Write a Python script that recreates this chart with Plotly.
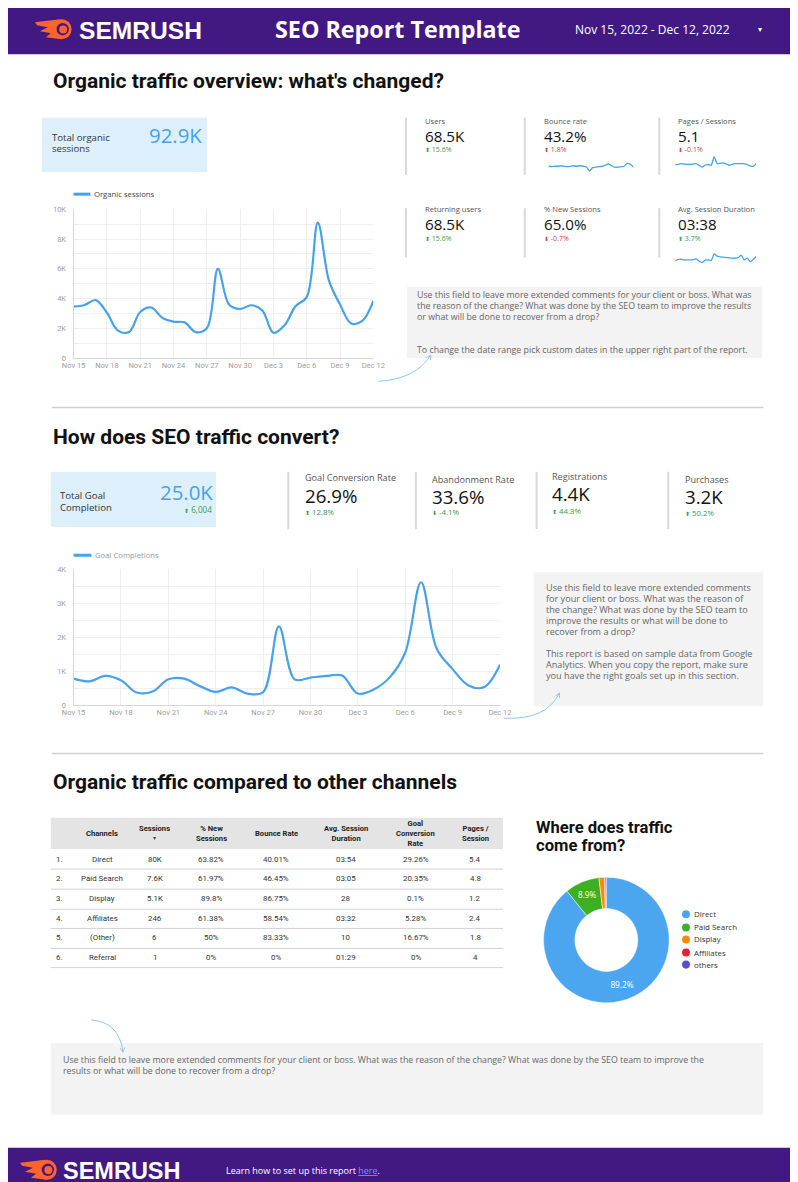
import math
import pandas as pd
import plotly.graph_objects as go

W, H = 798, 1182
# The page is photographed with the browser's default 8px body margin and fitted back into
# 798x1182, so positions measured on the reference are mapped through that transform.
M = 8
SX, SY = W / (W + 2 * M), H / (H + 2 * M)


def X(x):
    return ((x - M * SX) / SX) / W


def Y(y):
    return 1 - ((y - M * SY) / SY) / H


# ------------------------------------------------------------------ data
dates = pd.date_range("2022-11-15", "2022-12-12", freq="D")
date_tick_labels = ["Nov 15", "Nov 18", "Nov 21", "Nov 24", "Nov 27",
                    "Nov 30", "Dec 3", "Dec 6", "Dec 9", "Dec 12"]

organic_sessions = [3460, 3570, 3900, 3050, 1850, 1750, 3100, 3400, 2700, 2450,
                    2400, 1750, 2000, 6000, 3600, 3300, 3550, 3200, 1700, 2200,
                    3500, 4100, 9100, 5200, 3600, 2330, 2500, 3850]

goal_completions = [780, 700, 860, 730, 370, 400, 760, 780, 560, 390,
                    520, 340, 380, 2320, 760, 810, 860, 870, 340, 460,
                    810, 1550, 3620, 1650, 1060, 580, 530, 1190]

bounce_rate_trend = [43.0, 42.7, 43.0, 43.0, 43.3, 43.0, 42.7, 43.0, 43.3, 43.0,
                     43.3, 43.0, 42.7, 40.0, 42.1, 42.4, 42.7, 43.0, 43.6, 44.5,
                     43.3, 42.4, 42.4, 42.7, 43.0, 44.8, 44.2, 42.4]

pages_per_session_trend = [5.10, 5.15, 5.25, 5.20, 5.15, 5.15, 5.20, 5.25, 5.00, 4.75,
                           5.05, 5.10, 5.00, 6.25, 5.25, 5.30, 5.35, 5.20, 5.00, 5.15,
                           5.25, 5.25, 5.25, 5.20, 5.10, 4.90, 4.85, 5.25]

avg_session_duration_trend = [210, 216, 218, 214, 214, 214, 216, 220, 206, 198,
                              212, 214, 210, 250, 236, 232, 230, 228, 226, 224,
                              224, 228, 242, 214, 224, 204, 216, 234]

kpi_top_labels = ["Users", "Bounce rate", "Pages / Sessions",
                  "Returning users", "% New Sessions", "Avg. Session Duration"]
kpi_top_values = ["68.5K", "43.2%", "5.1", "68.5K", "65.0%", "03:38"]
kpi_top_changes = ["15.6%", "1.8%", "-0.1%", "15.6%", "-0.7%", "3.7%"]
kpi_top_good = [True, False, False, True, False, True]

total_organic_sessions = "92.9K"
total_goal_completion = "25.0K"
total_goal_change = "6,004"

kpi_goal_labels = ["Goal Conversion Rate", "Abandonment Rate", "Registrations", "Purchases"]
kpi_goal_values = ["26.9%", "33.6%", "4.4K", "3.2K"]
kpi_goal_changes = ["12.8%", "-4.1%", "44.8%", "50.2%"]
kpi_goal_good = [True, True, True, True]

table_headers = ["Channels", "Sessions", "% New<br>Sessions", "Bounce Rate",
                 "Avg. Session<br>Duration", "Goal<br>Conversion<br>Rate", "Pages /<br>Session"]
channels = ["Direct", "Paid Search", "Display", "Affiliates", "(Other)", "Referral"]
sessions = ["80K", "7.6K", "5.1K", "246", "6", "1"]
new_sessions = ["63.82%", "61.97%", "89.8%", "61.38%", "50%", "0%"]
bounce_rates = ["40.01%", "46.45%", "86.75%", "58.54%", "83.33%", "0%"]
avg_durations = ["03:54", "03:05", "28", "03:32", "10", "01:29"]
goal_conversion = ["29.26%", "20.35%", "0.1%", "5.28%", "16.67%", "0%"]
pages_session = ["5.4", "4.8", "1.2", "2.4", "1.8", "4"]

pie_labels = ["Direct", "Paid Search", "Display", "Affiliates", "others"]
pie_values = [89.2, 8.9, 1.4, 0.2, 0.3]
pie_colors = ["#4BA6EF", "#3CAF22", "#FF8A00", "#E8222B", "#5B4FC9"]

comment_1 = ["Use this field to leave more extended comments for your client or boss. What was",
             "the reason of the change? What was done by the SEO team to improve the results",
             "or what will be done to recover from a drop?",
             "", "",
             "To change the date range pick custom dates in the upper right part of the report."]
comment_2 = ["Use this field to leave more extended comments",
             "for your client or boss. What was the reason of",
             "the change? What was done by the SEO team to",
             "improve the results or what will be done to",
             "recover from a drop?",
             "",
             "This report is based on sample data from Google",
             "Analytics. When you copy the report, make sure",
             "you have the right goals set up in this section."]
comment_3 = ["Use this field to leave more extended comments for your client or boss. What was the reason of the change? What was done by the SEO team to improve the",
             "results or what will be done to recover from a drop?"]

# ------------------------------------------------------------------ styles
PURPLE = "#421983"
ORANGE = "#FF642D"
BLUE = "#45A2F0"
GREEN = "#35A04B"
RED = "#E53935"
BODY = "Open Sans"
HEAD = "Roboto"

shapes = []
ann = []


def text(x, y, s, size=8, color="#333", family=BODY, xanchor="left",
         yanchor="middle", align="left"):
    ann.append(dict(x=X(x), y=Y(y), xref="paper", yref="paper", text=s,
                    showarrow=False, xanchor=xanchor, yanchor=yanchor, align=align,
                    borderpad=0, font=dict(family=family, size=size, color=color)))


def rect(x0, y0, x1, y1, fill, layer="below"):
    shapes.append(dict(type="rect", xref="paper", yref="paper", x0=X(x0), x1=X(x1),
                       y0=Y(y1), y1=Y(y0), fillcolor=fill, line=dict(width=0), layer=layer))


def line(x0, y0, x1, y1, color="#D6D6D6", width=1):
    shapes.append(dict(type="line", xref="paper", yref="paper", x0=X(x0), x1=X(x1),
                       y0=Y(y0), y1=Y(y1), line=dict(color=color, width=width), layer="below"))


def circle(cx, cy, r, fill):
    shapes.append(dict(type="circle", xref="paper", yref="paper", x0=X(cx - r), x1=X(cx + r),
                       y0=Y(cy + r), y1=Y(cy - r), fillcolor=fill, line=dict(width=0), layer="above"))


def polygon(pts, fill):
    p = "M " + " L ".join(f"{X(a):.5f},{Y(b):.5f}" for a, b in pts) + " Z"
    shapes.append(dict(type="path", xref="paper", yref="paper", path=p, fillcolor=fill,
                       line=dict(width=0), layer="above"))


def curved_arrow(p0, c, p1, color="#8EC8F6", head=5):
    p = (f"M {X(p0[0]):.5f},{Y(p0[1]):.5f} Q {X(c[0]):.5f},{Y(c[1]):.5f} "
         f"{X(p1[0]):.5f},{Y(p1[1]):.5f}")
    shapes.append(dict(type="path", xref="paper", yref="paper", path=p,
                       line=dict(color=color, width=1), layer="above"))
    dx, dy = p1[0] - c[0], p1[1] - c[1]
    n = math.hypot(dx, dy)
    ux, uy = -dx / n, -dy / n
    for a in (0.5, -0.5):
        rx = ux * math.cos(a) - uy * math.sin(a)
        ry = ux * math.sin(a) + uy * math.cos(a)
        q = (p1[0] + rx * head, p1[1] + ry * head)
        shapes.append(dict(type="line", xref="paper", yref="paper", x0=X(p1[0]), y0=Y(p1[1]),
                           x1=X(q[0]), y1=Y(q[1]), line=dict(color=color, width=1), layer="above"))


def semrush_logo(x0, yc, text_x, size):
    cx = x0 + 27
    polygon([(x0, yc - 7), (cx - 2, yc - 10), (cx, yc + 10), (x0 + 11, yc + 8),
             (x0 + 16, yc + 4), (x0 + 5, yc + 2), (x0 + 13, yc - 2), (x0 + 2, yc - 4)], ORANGE)
    circle(cx, yc, 10, ORANGE)
    circle(cx + 1, yc, 6.2, PURPLE)
    circle(cx + 1.5, yc + 0.3, 4, ORANGE)
    text(text_x, yc + 1, "<b>SEMRUSH</b>", size=size, color="white", family="Liberation Sans")


def comment_box(x0, y0, x1, y1, lines, tx, ty, step=11, size=8.8):
    rect(x0, y0, x1, y1, "#F3F3F3")
    for i, s in enumerate(lines):
        if s:
            text(tx, ty + i * step, s, size=size, color="#666")


def arrow_txt(change, good):
    col = GREEN if good else RED
    up = not change.startswith("-")
    glyph = "⬆" if up else "⬇"
    return f"<span style='font-size:6px'>{glyph}</span> {change}", col


# ------------------------------------------------------------------ header / footer
rect(-10, -10, W + 10, 50, PURPLE)
semrush_logo(23, 25, 66, 24.6)
text(389, 25, "<b>SEO Report Template</b>", size=23.3, color="white", xanchor="center")
text(568, 25, "Nov 15, 2022 - Dec 12, 2022", size=12, color="white")
text(756, 24, "▾", size=8, color="white", xanchor="center")

rect(-10, 1137, W + 10, H + 10, PURPLE)
semrush_logo(8, 1159, 50, 23.5)
text(215, 1160, "Learn how to set up this report "
     "<span style='color:#5E9BFF;text-decoration:underline'>here</span>.",
     size=9, color="white")

# ------------------------------------------------------------------ section 1
TITLE = 21
text(40, 76, "<b>Organic traffic overview: what's changed?</b>", size=TITLE, color="#111", family=HEAD)

rect(30, 113, 197, 167, "#DEEFFC")
text(39, 133, "Total organic", size=9.6, color="#333")
text(39, 144, "sessions", size=9.6, color="#333")
text(193, 130, total_organic_sessions, size=20.4, color=BLUE, xanchor="right")

tile_x = [416, 536, 672]
for row, (ly, vy, cy, l0, l1) in enumerate([(116, 131, 145, 113, 170), (204, 219, 233, 203, 252)]):
    for col in range(3):
        k = row * 3 + col
        line(tile_x[col] - 18, l0, tile_x[col] - 18, l1, color="#D9D9D9", width=2)
        text(tile_x[col], ly, kpi_top_labels[k], size=7.6, color="#555")
        text(tile_x[col], vy, kpi_top_values[k], size=15.2, color="#111")
        s, c = arrow_txt(kpi_top_changes[k], kpi_top_good[k])
        text(tile_x[col], cy, s, size=7.0, color=c)

# chart legend
line(62, 189, 79, 189, color=BLUE, width=3)
text(82, 189, "Organic sessions", size=7.7, color="#444")

comment_box(399, 281, 758, 352, comment_1, 408, 289)
curved_arrow((370, 375), (408, 373), (423, 349))

line(40, 401, 759, 401, color="#D0D0D0", width=1.5)

# ------------------------------------------------------------------ section 2
text(40, 430, "<b>How does SEO traffic convert?</b>", size=TITLE, color="#111", family=HEAD)

rect(39, 465, 206, 520, "#DEEFFC")
text(47, 489, "Total Goal", size=9.6, color="#333")
text(47, 501, "Completion", size=9.6, color="#333")
text(204, 485, total_goal_completion, size=20.4, color=BLUE, xanchor="right")
text(203, 503, f"<span style='font-size:6px'>⬆</span> {total_goal_change}", size=8.2, color=GREEN,
     xanchor="right")

goal_x = [295, 423, 545, 679]
goal_line_x = [279, 408, 530, 663]
goal_ly = [471, 473, 470, 473]
goal_vy = [489, 490, 487, 490]
goal_cy = [505, 505, 504, 506]
for i in range(4):
    line(goal_line_x[i], 465, goal_line_x[i], 522, color="#D9D9D9", width=2)
    text(goal_x[i], goal_ly[i], kpi_goal_labels[i], size=9.1, color="#555")
    text(goal_x[i], goal_vy[i], kpi_goal_values[i], size=18.7, color="#111")
    s, c = arrow_txt(kpi_goal_changes[i], kpi_goal_good[i])
    text(goal_x[i], goal_cy[i], s, size=7.8, color=c)

line(62, 548, 80, 548, color=BLUE, width=3)
text(83, 548, "Goal Completions", size=7.7, color="#999")

comment_box(527, 565, 759, 698, comment_2, 538, 580, size=9.1)
curved_arrow((497, 710), (540, 712), (553, 685))

line(40, 745, 759, 745, color="#D0D0D0", width=1.5)

# ------------------------------------------------------------------ section 3
text(40, 773, "<b>Organic traffic compared to other channels</b>", size=TITLE, color="#111", family=HEAD)

rect(39, 809, 496, 840, "#E4E4E4")
col_x = [91, 144, 201, 267, 337, 408, 468]
for i, h in enumerate(table_headers):
    yy = 820 if h == "Sessions" else 824.5
    text(col_x[i], yy, f"<b>{h}</b>", size=7.6, color="#222", family=HEAD, xanchor="center",
         align="center")
text(col_x[1], 829, "▾", size=6, color="#444", xanchor="center")
row_y = [850, 869, 889, 909, 928, 948]
row_line = [860, 880, 900, 919, 939, 958]
for r in range(len(channels)):
    vals = [channels[r], sessions[r], new_sessions[r], bounce_rates[r],
            avg_durations[r], goal_conversion[r], pages_session[r]]
    text(43, row_y[r], f"{r + 1}.", size=7.9, color="#333", family=HEAD)
    for c, v in enumerate(vals):
        text(col_x[c], row_y[r], v, size=7.9, color="#333", family=HEAD, xanchor="center")
    line(39, row_line[r], 496, row_line[r], color="#D2D2D2", width=1)

text(528, 819, "<b>Where does traffic</b>", size=16.6, color="#111", family=HEAD)
text(528, 837, "<b>come from?</b>", size=16.6, color="#111", family=HEAD)

leg_y = [905, 918, 930, 943, 955]
for i, lab in enumerate(pie_labels):
    circle(681, leg_y[i], 4, pie_colors[i])
    text(688, leg_y[i], lab, size=7.9, color="#333")

comment_box(39, 1033, 759, 1104, comment_3, 50, 1050)
curved_arrow((80, 1010), (108, 1012), (112, 1042))

# ------------------------------------------------------------------ traces
fig = go.Figure()
fig.add_trace(go.Scatter(x=dates, y=organic_sessions, mode="lines",
                         line=dict(color=BLUE, width=2.2, shape="spline", smoothing=1.0),
                         xaxis="x", yaxis="y", showlegend=False, hoverinfo="skip"))
fig.add_trace(go.Scatter(x=dates, y=goal_completions, mode="lines",
                         line=dict(color=BLUE, width=2.2, shape="spline", smoothing=1.0),
                         xaxis="x2", yaxis="y2", showlegend=False, hoverinfo="skip"))
for tr, ax in [(bounce_rate_trend, 3), (pages_per_session_trend, 4), (avg_session_duration_trend, 5)]:
    fig.add_trace(go.Scatter(x=dates, y=tr, mode="lines",
                             line=dict(color=BLUE, width=1.3, shape="spline", smoothing=0.6),
                             xaxis=f"x{ax}", yaxis=f"y{ax}", showlegend=False, hoverinfo="skip"))

total = sum(pie_values)
pie_text = [f"{v / total * 100:.1f}%" if v / total >= 0.05 else "" for v in pie_values]
fig.add_trace(go.Pie(labels=pie_labels, values=pie_values, hole=0.5, sort=False,
                     direction="clockwise", rotation=0,
                     marker=dict(colors=pie_colors, line=dict(color="white", width=0.5)),
                     text=pie_text, textinfo="text", textposition="inside",
                     insidetextorientation="horizontal",
                     textfont=dict(color="white", size=8.2, family=BODY),
                     domain=dict(x=[X(537), X(664)], y=[Y(994), Y(867)]),
                     showlegend=False, hoverinfo="skip"))

axis_font = dict(family=HEAD, size=7.5, color="#9E9E9E")


def date_axis(x0, x1, anchor):
    return dict(domain=[X(x0), X(x1)], type="date", range=["2022-11-15", "2022-12-12"],
                tickvals=list(dates[::3]), ticktext=date_tick_labels, showgrid=True,
                gridcolor="#EFEFEF", gridwidth=1, showline=True, linecolor="#D8D8D8",
                linewidth=1, zeroline=False, ticks="", tickfont=axis_font, anchor=anchor,
                fixedrange=True, tickangle=0)


def value_axis(top, bottom, vmax, step, label_step, anchor):
    vals = list(range(0, vmax + 1, step))
    txt = ["0" if v == 0 else (f"{v // 1000}K" if v % label_step == 0 else "") for v in vals]
    return dict(domain=[Y(bottom), Y(top)], range=[0, vmax], tickvals=vals, ticktext=txt,
                showgrid=True, gridcolor="#EFEFEF", gridwidth=1, showline=True,
                linecolor="#D8D8D8", linewidth=1, zeroline=False, ticks="",
                tickfont=axis_font, anchor=anchor, ticklabelstandoff=5, fixedrange=True)


def spark_axes(x0, x1, top, bottom, yr, n):
    return {f"xaxis{n}": dict(domain=[X(x0), X(x1)], visible=False, anchor=f"y{n}",
                              range=["2022-11-15", "2022-12-12"], type="date"),
            f"yaxis{n}": dict(domain=[Y(bottom), Y(top)], visible=False, anchor=f"x{n}",
                              range=yr)}


layout = dict(
    width=W, height=H, margin=dict(l=0, r=0, t=0, b=0),
    paper_bgcolor="white", plot_bgcolor="white",
    xaxis=date_axis(62, 365, "y"),
    yaxis=value_axis(204, 352, 10000, 1000, 2000, "x"),
    xaxis2=date_axis(62, 493, "y2"),
    yaxis2=value_axis(562, 697, 4000, 500, 1000, "x2"),
    shapes=shapes, annotations=ann, showlegend=False,
)
layout.update(spark_axes(542, 628, 155, 169, [38.1, 46.95], 3))
layout.update(spark_axes(670, 752, 148, 166, [4.15, 6.85], 4))
layout.update(spark_axes(670, 752, 243, 261, [174, 282], 5))
fig.update_layout(**layout)

fig.write_html("out.html", include_plotlyjs=True, full_html=True,
               config={"displayModeBar": False})
